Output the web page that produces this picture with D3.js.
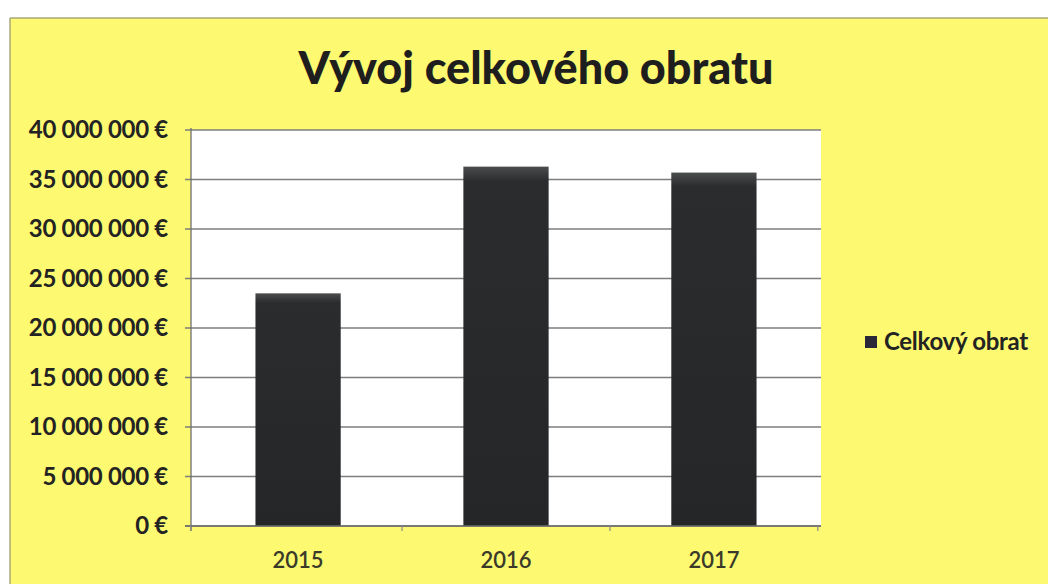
<!DOCTYPE html>
<html>
<head>
<meta charset="utf-8">
<script src="https://cdn.jsdelivr.net/npm/d3@7"></script>
<style>
  html, body { margin: 0; padding: 0; background: #ffffff; }
  svg { display: block; }
</style>
</head>
<body>
<svg id="chart" width="1048" height="584"></svg>
<script>
const categories = ["2015", "2016", "2017"];
const seriesName = "Celkový obrat";
const values = [23500000, 36300000, 35700000];
const yTicks = [0, 5000000, 10000000, 15000000, 20000000, 25000000, 30000000, 35000000, 40000000];
const titleText = "Vývoj celkového obratu";

const svg = d3.select("#chart");
const W = 1048, H = 584;
const font = "Lato, 'Open Sans', sans-serif";

// chart area (yellow)
svg.append("rect").attr("x", 10).attr("y", 18).attr("width", W - 10).attr("height", H - 18)
  .attr("fill", "#fdf970");
svg.append("line").attr("x1", 10).attr("x2", W).attr("y1", 18).attr("y2", 18)
  .attr("stroke", "#a9a77a").attr("stroke-width", 1.5);
svg.append("line").attr("x1", 10).attr("x2", 10).attr("y1", 18).attr("y2", H)
  .attr("stroke", "#a9a77a").attr("stroke-width", 1.5);

const m = { left: 191, right: 821, top: 130, bottom: 526 };

const x = d3.scaleBand().domain(categories).range([m.left, m.right]).paddingInner(0.59).paddingOuter(0.31);
const y = d3.scaleLinear().domain([0, 40000000]).range([m.bottom, m.top]);

// plot background
svg.append("rect").attr("x", m.left).attr("y", m.top)
  .attr("width", m.right - m.left).attr("height", m.bottom - m.top).attr("fill", "#ffffff");

// gridlines
svg.append("g").selectAll("line").data(yTicks).join("line")
  .attr("x1", m.left - 6).attr("x2", m.right)
  .attr("y1", d => y(d)).attr("y2", d => y(d))
  .attr("stroke", "#7d7d7d").attr("stroke-width", 1.3);

// y axis labels
const fmt = d => (d === 0 ? "0" : d3.format(",")(d).replace(/,/g, " ")) + " €";
svg.append("g").selectAll("text").data(yTicks).join("text")
  .attr("x", 168).attr("y", d => y(d)).attr("dy", "0.35em")
  .attr("text-anchor", "end")
  .attr("font-family", font).attr("font-weight", 700).attr("font-size", 24)
  .attr("letter-spacing", -0.3)
  .attr("fill", "#232323")
  .text(fmt);

// gradient for bars
const defs = svg.append("defs");
const grad = defs.append("linearGradient").attr("id", "barGrad").attr("x1", 0).attr("x2", 0).attr("y1", 0).attr("y2", 1);
grad.append("stop").attr("offset", "0%").attr("stop-color", "#4a4c4d");
grad.append("stop").attr("offset", "4%").attr("stop-color", "#2a2c2d");
grad.append("stop").attr("offset", "100%").attr("stop-color", "#242627");

// bars
svg.append("g").selectAll("rect").data(values).join("rect")
  .attr("x", (d, i) => x(categories[i]))
  .attr("y", d => y(d))
  .attr("width", x.bandwidth())
  .attr("height", d => y(0) - y(d))
  .attr("fill", "url(#barGrad)");

// axes lines
svg.append("line").attr("x1", m.left).attr("x2", m.left).attr("y1", m.top - 2).attr("y2", m.bottom + 5)
  .attr("stroke", "#6e6e6e").attr("stroke-width", 1.3);
svg.append("line").attr("x1", m.left - 6).attr("x2", m.right).attr("y1", m.bottom).attr("y2", m.bottom)
  .attr("stroke", "#6e6e6e").attr("stroke-width", 1.5);
// category tick marks
const bounds = [m.left].concat(categories.map(c => x(c) + x.bandwidth() + x.step() * x.paddingInner() / 2));
svg.append("g").selectAll("line").data(bounds).join("line")
  .attr("x1", d => d).attr("x2", d => d).attr("y1", m.bottom).attr("y2", m.bottom + 5)
  .attr("stroke", "#8a8a8a").attr("stroke-width", 1.2);

// x labels
svg.append("g").selectAll("text").data(categories).join("text")
  .attr("x", d => x(d) + x.bandwidth() / 2).attr("y", 560)
  .attr("dy", "0.35em").attr("text-anchor", "middle")
  .attr("font-family", font).attr("font-weight", 600).attr("font-size", 22)
  .attr("fill", "#3a3a2a")
  .text(d => d);

// title
svg.append("text").attr("x", 536).attr("y", 84)
  .attr("text-anchor", "middle")
  .attr("font-family", font).attr("font-weight", 900).attr("font-size", 45)
  .attr("fill", "#1e1e1e")
  .text(titleText);

// legend
svg.append("rect").attr("x", 865).attr("y", 336).attr("width", 12).attr("height", 12).attr("fill", "#2a2838");
svg.append("text").attr("x", 884).attr("y", 342).attr("dy", "0.35em")
  .attr("font-family", font).attr("font-weight", 700).attr("font-size", 24)
  .attr("letter-spacing", -0.3)
  .attr("fill", "#232323")
  .text(seriesName);
</script>
</body>
</html>
